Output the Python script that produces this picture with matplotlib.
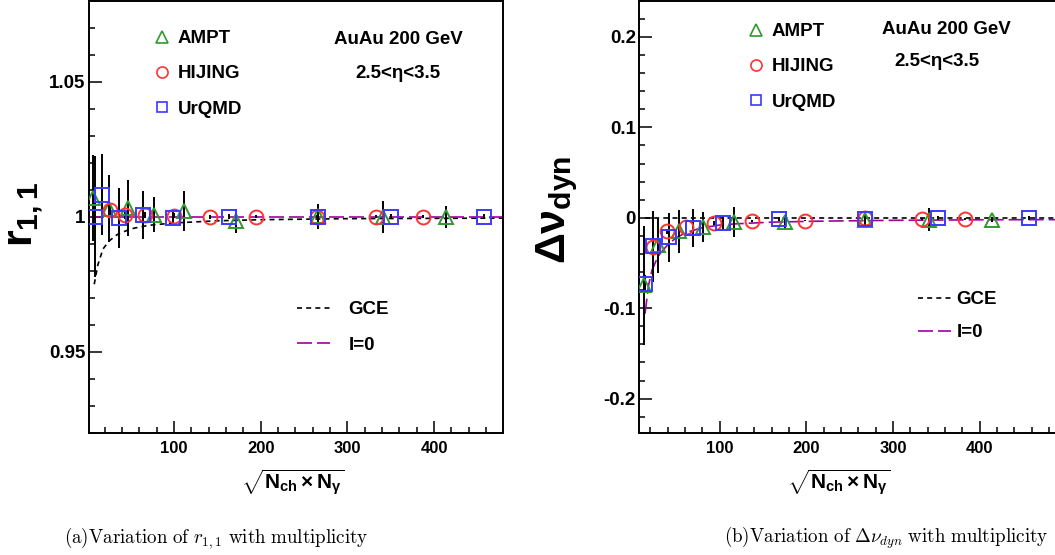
import matplotlib
matplotlib.use('Agg')
import matplotlib.pyplot as plt
from matplotlib.lines import Line2D
from matplotlib.ticker import MultipleLocator, FuncFormatter

# ---- r_{1,1} vs multiplicity (left panel) ----
amptX = [7, 25, 47, 77, 112, 172, 266, 341, 414]
amptR = [1.0069, 1.0030, 1.0032, 1.0007, 1.0020, 0.9983, 1.0001, 0.9998, 0.9999]
amptRErr = [0.016, 0.0125, 0.0105, 0.0065, 0.0074, 0.0044, 0.0045, 0.0059, 0.004]

hijingX = [26, 43, 66, 100, 141, 195, 265, 333, 387]
hijingR = [1.0026, 1.0007, 1.0007, 1.0004, 1.0000, 1.0000, 1.0000, 1.0000, 1.0000]
hijingRErr = [0.002, 0.0015, 0.001, 0.001, 0.0008, 0.0006, 0.0005, 0.0005, 0.0005]

urqmdX = [9, 17, 36, 64, 99, 164, 266, 350, 458]
urqmdR = [1.0000, 1.0081, 0.9995, 1.0007, 0.9997, 1.0000, 1.0000, 1.0000, 1.0000]
urqmdRErr = [0.0225, 0.015, 0.011, 0.009, 0.002, 0.001, 0.001, 0.001, 0.001]

gceRX = [8, 12, 18, 25, 35, 50, 70, 100, 150, 200, 300, 400, 480]
gceR = [0.975, 0.982, 0.988, 0.991, 0.9935, 0.9955, 0.9968, 0.9977, 0.9985, 0.9989, 0.9993, 0.9994, 0.9995]
iso0RX = [2, 480]
iso0R = [1.0, 1.0]

# ---- Delta nu_dyn vs multiplicity (right panel) ----
amptNuX = [13, 29, 53, 81, 117, 175, 268, 342, 414]
amptNu = [-0.0747, -0.0306, -0.0150, -0.0104, -0.0048, -0.0048, -0.0020, -0.0020, -0.0020]
amptNuErr = [0.066, 0.030, 0.024, 0.0166, 0.0165, 0.0074, 0.0074, 0.013, 0.003]

hijingNuX = [23, 39, 61, 93, 137, 198, 268, 333, 383]
hijingNu = [-0.0320, -0.0150, -0.0104, -0.0060, -0.0037, -0.0030, -0.0005, -0.0010, -0.0010]
hijingNuErr = [0.004, 0.003, 0.002, 0.002, 0.001, 0.001, 0.001, 0.001, 0.001]

urqmdNuX = [14, 23, 42, 69, 104, 168, 268, 352, 457]
urqmdNu = [-0.0728, -0.0317, -0.0214, -0.0110, -0.0060, -0.0010, -0.0010, 0.0000, 0.0000]
urqmdNuErr = [0.01, 0.039, 0.027, 0.021, 0.008, 0.002, 0.002, 0.002, 0.002]

gceNuX = [14, 495]
gceNu = [0.0, 0.0]
iso0NuX = [14, 18, 22, 27, 31, 40, 50, 62, 80, 100, 120, 160, 216, 300, 400, 495]
iso0Nu = [-0.106, -0.075, -0.058, -0.047, -0.040, -0.030, -0.022, -0.016, -0.011, -0.008,
          -0.0066, -0.0048, -0.0037, -0.0028, -0.0022, -0.002]

W, H = 1055.0, 555.0
GREEN = '#2f9a2f'
RED = '#ff3333'
BLUE = '#3a3aff'
MAGENTA = '#a000a0'
BOLD = 'Liberation Sans'

plt.rcParams['font.family'] = ['Liberation Sans', 'DejaVu Sans']
plt.rcParams['font.weight'] = 'bold'
plt.rcParams['axes.unicode_minus'] = False
plt.rcParams['mathtext.fontset'] = 'custom'
plt.rcParams['mathtext.rm'] = 'Liberation Sans:bold'
plt.rcParams['mathtext.it'] = 'Liberation Sans:bold'
plt.rcParams['mathtext.bf'] = 'Liberation Sans:bold'


def px(x0, y0, x1, y1):
  # pixel box -> figure fraction rect
  return [x0 / W, 1 - y1 / H, (x1 - x0) / W, (y1 - y0) / H]


def tickFmt(v, pos):
  v = round(v, 4)
  if v == 0:
    return '0'
  return '%g' % v


def styleAxes(ax, xlim, ylim, yMajor, yMinor):
  ax.set_xlim(*xlim)
  ax.set_ylim(*ylim)
  ax.xaxis.set_major_locator(MultipleLocator(100))
  ax.xaxis.set_minor_locator(MultipleLocator(20))
  ax.yaxis.set_major_locator(MultipleLocator(yMajor))
  ax.yaxis.set_minor_locator(MultipleLocator(yMinor))
  ax.yaxis.set_major_formatter(FuncFormatter(tickFmt))
  ax.tick_params(which='both', direction='in', top=False, right=False, width=1.1)
  ax.tick_params(which='major', length=9)
  ax.tick_params(which='minor', length=4.5)
  ax.tick_params(axis='x', labelsize=12, pad=6)
  ax.tick_params(axis='y', labelsize=13.5, pad=2.5)
  for lbl in ax.get_xticklabels() + ax.get_yticklabels():
    lbl.set_fontweight('bold')
  for s in ax.spines.values():
    s.set_linewidth(1.4)


def drawSeries(ax, x, y, err, marker, color, size):
  ax.errorbar(x, y, yerr=err, fmt='none', ecolor='black', elinewidth=1.4, capsize=0, zorder=3)
  ax.plot(x, y, linestyle='none', marker=marker, markersize=size, markerfacecolor='none',
          markeredgecolor=color, markeredgewidth=1.4, zorder=4)


def addLegends(ax, fig, modelAnchor, lineAnchor, linePad, lineSpacing):
  handles = [
    Line2D([], [], linestyle='none', marker='^', markersize=8, mfc='none', mec=GREEN, mew=1.2),
    Line2D([], [], linestyle='none', marker='o', markersize=8, mfc='none', mec=RED, mew=1.2),
    Line2D([], [], linestyle='none', marker='s', markersize=7.5, mfc='none', mec=BLUE, mew=1.2),
  ]
  leg1 = ax.legend(handles, ['AMPT', 'HIJING', 'UrQMD'], loc='upper left',
                   bbox_to_anchor=(modelAnchor[0] / W, 1 - modelAnchor[1] / H),
                   bbox_transform=fig.transFigure, frameon=False, borderpad=0,
                   borderaxespad=0, handlelength=0.8, handletextpad=0.45,
                   labelspacing=0.97, prop={'family': BOLD, 'weight': 'bold', 'size': 13.5})
  ax.add_artist(leg1)
  handles2 = [
    Line2D([], [], color='black', linewidth=1.2, dashes=(3, 2.5)),
    Line2D([], [], color=MAGENTA, linewidth=1.2, dashes=(9, 3)),
  ]
  ax.legend(handles2, ['GCE', 'I=0'], loc='upper left',
            bbox_to_anchor=(lineAnchor[0] / W, 1 - lineAnchor[1] / H),
            bbox_transform=fig.transFigure, frameon=False, borderpad=0,
            borderaxespad=0, handlelength=1.75, handletextpad=linePad,
            labelspacing=lineSpacing, prop={'family': BOLD, 'weight': 'bold', 'size': 13.5})


def main():
  fig = plt.figure(figsize=(W / 100, H / 100), dpi=100)

  # left panel
  ax1 = fig.add_axes(px(88.7, 0.8, 503, 432.7))
  ax1.plot(gceRX, gceR, color='black', linewidth=1.2, dashes=(3, 2.5), zorder=2)
  ax1.plot(iso0RX, iso0R, color=MAGENTA, linewidth=1.2, dashes=(9, 3), zorder=2)
  drawSeries(ax1, amptX, amptR, amptRErr, '^', GREEN, 10)
  drawSeries(ax1, hijingX, hijingR, hijingRErr, 'o', RED, 10)
  drawSeries(ax1, urqmdX, urqmdR, urqmdRErr, 's', BLUE, 9.5)
  styleAxes(ax1, (1.6, 479.5), (0.92, 1.08), 0.05, 0.01)
  addLegends(ax1, fig, (154, 30), (297, 301), 1.0, 1.0)
  fig.text(398 / W, 1 - 40 / H, 'AuAu 200 GeV', ha='center', va='center',
           fontsize=13.5, fontweight='bold')
  fig.text(398 / W, 1 - 73 / H, '2.5<\u03b7<3.5', ha='center', va='center',
           fontsize=13.5, fontweight='bold')
  fig.text(25 / W, 1 - 214 / H, r'$r_{1,1}$', rotation=90, ha='center', va='center',
           fontsize=31)
  fig.text(345 / W, 1 - 482 / H, r'$\sqrt{N_{ch}\times N_{\gamma}}$', ha='right',
           va='center', fontsize=15)

  # right panel
  ax2 = fig.add_axes(px(639.3, 0.8, 639.3 + (495 - 7.4) * 0.867, 433))
  ax2.plot(gceNuX, gceNu, color='black', linewidth=1.2, dashes=(3, 2.5), zorder=2)
  ax2.plot(iso0NuX, iso0Nu, color=MAGENTA, linewidth=1.2, dashes=(9, 3), zorder=2)
  drawSeries(ax2, amptNuX, amptNu, amptNuErr, '^', GREEN, 10)
  drawSeries(ax2, hijingNuX, hijingNu, hijingNuErr, 'o', RED, 10)
  drawSeries(ax2, urqmdNuX, urqmdNu, urqmdNuErr, 's', BLUE, 9.5)
  styleAxes(ax2, (7.4, 495), (-0.238, 0.24), 0.1, 0.02)
  addLegends(ax2, fig, (748, 23), (918, 291), 0.3, 0.85)
  fig.text(946 / W, 1 - 29 / H, 'AuAu 200 GeV', ha='center', va='center',
           fontsize=13.5, fontweight='bold')
  fig.text(937 / W, 1 - 61 / H, '2.5<\u03b7<3.5', ha='center', va='center',
           fontsize=13.5, fontweight='bold')
  fig.text(557 / W, 1 - 210 / H, r'$\Delta\nu_{dyn}$', rotation=90, ha='center',
           va='center', fontsize=31)
  fig.text(891 / W, 1 - 482 / H, r'$\sqrt{N_{ch}\times N_{\gamma}}$', ha='right',
           va='center', fontsize=15)

  # captions
  fig.text(216 / W, 1 - 538 / H, r'$\mathrm{(a)Variation\ of\ }r_{1,1}\mathrm{\ with\ multiplicity}$',
           ha='center', va='center', fontsize=13.7, math_fontfamily='cm')
  fig.text(1048 / W, 1 - 538 / H,
           r'$\mathrm{(b)Variation\ of\ }\Delta\nu_{dyn}\mathrm{\ with\ multiplicity}$',
           ha='right', va='center', fontsize=13.7, math_fontfamily='cm')

  fig.savefig('out.png', dpi=100)


if __name__ == '__main__':
  main()
